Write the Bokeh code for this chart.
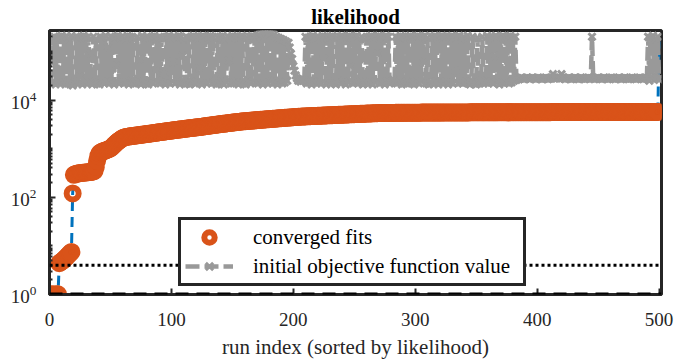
from bokeh.plotting import figure
from bokeh.models import (Range1d, FixedTicker, Span, Legend, LegendItem)
from bokeh.embed import file_html
from bokeh.resources import INLINE

# ---------------- data ----------------
# final objective value of every run, sorted (run index = position)
final_values = [
    1.0, 1.0, 1.0, 1.0, 1.0, 1.0, 1.01,
    4.4, 4.6, 4.8, 5.0, 5.3, 5.6, 5.9, 6.3, 6.7, 7.1, 7.5,
    120,
    290, 298, 303, 307, 310, 313, 316, 318, 320, 322, 324, 326, 328, 330, 333, 336, 340, 350,
    420, 560, 700, 800,
    840, 860, 880, 900, 920, 940, 960, 985, 1010,
    1060, 1120, 1190, 1260, 1330, 1400, 1460, 1520, 1580, 1640,
    1700, 1720, 1740, 1760, 1775, 1790, 1805, 1820, 1835, 1850,
    1865, 1880, 1895, 1910, 1925, 1940, 1955, 1970, 1985, 2000, 2015, 2035, 2050,
    2068, 2085, 2103, 2120, 2138, 2155, 2173, 2190, 2208, 2226,
    2244, 2262, 2280, 2298, 2316, 2334, 2350,
    2369, 2388, 2406, 2425, 2444, 2463, 2481, 2500, 2519, 2538,
    2556, 2575, 2594, 2613, 2631, 2650, 2669, 2688, 2706, 2725, 2744, 2763, 2781, 2800,
    2824, 2848, 2873, 2897, 2921, 2945, 2970, 2994, 3018, 3042,
    3067, 3091, 3115, 3139, 3164, 3188, 3212, 3236, 3261, 3285,
    3309, 3333, 3358, 3382, 3406, 3430, 3455, 3479, 3503, 3527, 3552, 3576, 3600,
    3619, 3639, 3658, 3678, 3697, 3716, 3736, 3755, 3775, 3794,
    3813, 3833, 3852, 3872, 3891, 3910, 3930, 3949, 3969, 3988,
    4007, 4027, 4046, 4066, 4085, 4104, 4124, 4143, 4163, 4182,
    4201, 4221, 4240, 4260, 4279, 4298, 4318, 4337, 4357, 4376,
    4395, 4415, 4434, 4454, 4473, 4492, 4512, 4531, 4550,
    4563, 4576, 4589, 4602, 4615, 4628, 4642, 4655, 4668, 4681,
    4694, 4707, 4720, 4733, 4746, 4759, 4772, 4785, 4798, 4811,
    4825, 4838, 4851, 4864, 4877, 4890, 4903, 4916, 4929, 4942,
    4955, 4968, 4981, 4994, 5008, 5021, 5034, 5047, 5060, 5073,
    5086, 5099, 5112, 5125, 5138, 5151, 5164, 5177, 5191, 5204,
    5217, 5230, 5243, 5256, 5269, 5282, 5295, 5308, 5321, 5334,
    5347, 5360, 5374, 5387, 5400,
    5403, 5407, 5410, 5414, 5417, 5421, 5424, 5428, 5431, 5434,
    5438, 5441, 5445, 5448, 5452, 5455, 5459, 5462, 5466, 5469,
    5472, 5476, 5479, 5483, 5486, 5490, 5493, 5497, 5500,
    5502, 5503, 5505, 5506, 5508, 5510, 5511, 5513, 5514, 5516,
    5518, 5519, 5521, 5522, 5524, 5526, 5527, 5529, 5530, 5532,
    5534, 5535, 5537, 5538, 5540, 5542, 5543, 5545, 5546, 5548,
    5550, 5551, 5553, 5554, 5556, 5558, 5559, 5561, 5562, 5564,
    5566, 5567, 5569, 5570, 5572, 5574, 5575, 5577, 5578, 5580,
    5581, 5582, 5584, 5585, 5586, 5587, 5588, 5590, 5591, 5592,
    5593, 5594, 5595, 5596, 5597, 5598, 5600, 5601, 5602, 5603,
    5604, 5605, 5606, 5607, 5608, 5610, 5611, 5612, 5613, 5614,
    5615, 5616, 5617, 5618, 5619, 5620, 5621, 5622, 5623, 5624,
    5625, 5625, 5626, 5627, 5627, 5628, 5628, 5629, 5629, 5630,
    5631, 5631, 5632, 5633, 5633, 5634, 5635, 5635, 5636, 5637,
    5637, 5638, 5639, 5639, 5640, 5641, 5641, 5642, 5643, 5643,
    5644, 5645, 5645, 5646, 5647, 5647, 5648, 5649, 5649, 5650,
    5651, 5651, 5652, 5653, 5653, 5654, 5655, 5655, 5656, 5657,
    5657, 5658, 5659, 5659, 5660, 5660, 5661, 5661, 5662, 5662,
    5663, 5664, 5665, 5666, 5667, 5667, 5668, 5669, 5670, 5671,
    5672, 5673, 5673, 5674, 5675, 5676, 5677, 5678, 5679, 5679,
    5680, 5681, 5682, 5683, 5684, 5685, 5685, 5686, 5687, 5688,
    5689, 5690, 5691, 5691, 5692, 5693, 5694, 5695, 5696, 5697,
    5697, 5698, 5698, 5699, 5699, 5700, 5700, 5700, 5700,
    160000,
]
n_converged = 499  # the last run did not converge

# initial objective function value of every run (same run order)
initial_values = [
    2.2e4, 1.6e5, 6.0e4, 2.0e5, 2.1e4, 1.9e5, 2.3e4, 2.0e5, 2.2e4, 2.1e5,
    2.4e4, 1.9e5, 2.1e4, 2.0e5, 2.2e4, 1.8e5, 2.3e4, 2.1e5, 2.0e4, 2.2e4,
    2.4e4, 2.0e5, 2.2e4, 1.9e5, 3.0e4, 2.0e5, 2.1e4, 2.1e5, 2.3e4, 1.9e5,
    2.2e4, 2.0e5, 2.4e4, 9.0e4, 2.1e4, 2.0e5, 2.3e4, 1.8e5, 2.2e4, 2.3e4,
    2.1e4, 2.0e5, 2.5e4, 1.9e5, 2.2e4, 2.1e5, 2.4e4, 1.2e5, 2.2e4, 2.0e5,
    2.3e4, 1.9e5, 2.1e4, 2.0e5, 5.0e4, 2.1e5, 2.2e4, 1.9e5, 2.4e4, 2.0e5,
    2.2e4, 1.8e5, 2.3e4, 2.1e5, 2.1e4, 2.0e5, 2.5e4, 1.9e5, 2.2e4, 2.3e4,
    2.2e4, 2.0e5, 2.4e4, 7.0e4, 2.1e4, 2.1e5, 2.3e4, 1.9e5, 2.2e4, 2.0e5,
    2.1e4, 1.9e5, 2.4e4, 2.0e5, 2.2e4, 2.1e5, 4.0e4, 1.8e5, 2.3e4, 2.0e5,
    2.2e4, 1.9e5, 2.5e4, 3.5e4, 2.1e4, 2.0e5, 2.3e4, 2.1e5, 2.2e4, 1.9e5,
    6.0e4, 2.0e5, 2.2e4, 1.9e5, 2.4e4, 2.1e5, 2.1e4, 2.0e5, 8.0e4, 1.8e5,
    2.3e4, 2.0e5, 2.2e4, 1.9e5, 2.1e4, 2.2e4, 2.4e4, 2.1e5, 2.2e4, 2.0e5,
    2.3e4, 1.9e5, 4.5e4, 2.0e5, 2.1e4, 2.1e5, 2.4e4, 1.9e5, 2.2e4, 2.0e5,
    2.5e4, 2.1e5, 2.2e4, 2.0e5, 2.3e4, 3.0e4, 2.1e4, 1.9e5, 2.2e4, 2.0e5,
    2.4e4, 2.1e5, 2.1e4, 1.8e5, 2.3e4, 2.0e5, 6.5e4, 1.9e5, 2.2e4, 2.1e5,
    2.2e4, 2.0e5, 2.4e4, 1.9e5, 2.1e4, 2.0e5, 2.3e4, 2.1e5, 2.2e4, 2.3e4,
    2.1e4, 1.9e5, 2.4e4, 2.0e5, 2.2e4, 2.1e5, 5.5e4, 2.0e5, 2.3e4, 1.9e5,
    2.2e4, 2.2e5, 2.4e4, 2.4e5, 2.1e4, 2.3e5, 2.3e4, 2.4e5, 2.2e4, 2.3e5,
    2.5e4, 2.4e5, 2.2e4, 2.2e5, 2.3e4, 2.0e5, 2.1e4, 1.9e5, 2.4e4, 1.8e5,
    2.2e4, 1.7e5, 2.3e4, 1.6e5, 2.5e4, 1.5e5, 1.2e5, 9.0e4, 7.0e4, 5.0e4,
    4.0e4, 3.2e4, 2.8e4, 2.5e4, 2.6e4, 2.4e4, 2.7e4, 2.5e4, 2.6e4, 2.0e5,
    2.2e4, 1.9e5, 2.3e4, 2.0e5, 2.1e4, 2.1e5, 2.4e4, 1.9e5, 2.2e4, 2.0e5,
    2.3e4, 1.8e5, 2.2e4, 2.1e5, 7.0e4, 2.0e5, 2.1e4, 1.9e5, 2.4e4, 2.0e5,
    2.2e4, 2.1e5, 2.3e4, 2.2e4, 2.1e4, 1.9e5, 2.5e4, 2.0e5, 2.2e4, 2.1e5,
    2.4e4, 1.9e5, 2.1e4, 2.0e5, 2.3e4, 2.1e5, 5.0e4, 1.9e5, 2.2e4, 2.0e5,
    2.3e4, 2.1e5, 2.2e4, 1.8e5, 2.4e4, 2.0e5, 2.1e4, 2.2e4, 2.3e4, 1.9e5,
    2.2e4, 2.0e5, 2.4e4, 2.1e5, 2.1e4, 1.9e5, 2.3e4, 2.0e5, 9.0e4, 2.1e5,
    2.2e4, 2.0e5, 2.3e4, 1.9e5, 2.1e4, 2.1e5, 2.4e4, 2.0e5, 2.2e4, 2.3e4,
    2.5e4, 2.6e4, 2.4e4, 2.0e5, 2.2e4, 1.9e5, 2.3e4, 2.1e5, 2.1e4, 2.0e5,
    2.2e4, 1.9e5, 2.4e4, 2.0e5, 2.3e4, 2.1e5, 2.2e4, 1.8e5, 2.1e4, 2.0e5,
    2.3e4, 2.1e5, 2.2e4, 1.9e5, 2.4e4, 2.0e5, 6.0e4, 2.1e5, 2.2e4, 1.9e5,
    2.1e4, 2.2e4, 2.3e4, 2.0e5, 2.2e4, 2.1e5, 2.4e4, 1.9e5, 2.1e4, 2.0e5,
    2.3e4, 2.1e5, 2.2e4, 2.0e5, 2.4e4, 1.9e5, 2.1e4, 2.0e5, 2.3e4, 2.1e5,
    2.2e4, 1.9e5, 4.0e4, 2.0e5, 2.2e4, 2.1e5, 2.3e4, 1.8e5, 2.2e4, 2.0e5,
    2.4e4, 2.3e4, 2.1e5, 2.2e4, 2.1e4, 2.3e4, 2.0e5, 2.2e4, 2.4e4, 2.1e4,
    1.9e5, 2.3e4, 2.2e4, 2.5e4, 2.0e5, 2.2e4, 2.4e4, 2.3e4, 2.1e5, 2.2e4,
    1.9e5, 2.4e4, 2.0e5, 2.2e4, 8.0e4, 2.1e5, 2.3e4, 1.9e5, 2.1e4, 2.0e5,
    2.3e4, 2.1e5, 2.2e4, 1.9e5, 2.4e4, 2.0e5, 2.2e4, 2.1e5, 2.3e4, 1.9e5,
    2.5e4, 2.0e5, 2.6e4, 2.8e4, 2.7e4, 2.8e4, 2.9e4, 2.8e4, 2.7e4, 2.8e4,
    2.8e4, 2.9e4, 2.8e4, 2.7e4, 2.8e4, 2.9e4, 2.8e4, 2.8e4, 2.7e4, 2.8e4,
    2.9e4, 2.8e4, 2.8e4, 2.7e4, 2.8e4, 2.8e4, 2.9e4, 2.8e4, 2.7e4, 2.8e4,
    2.8e4, 2.9e4, 3.4e4, 2.9e4, 2.8e4, 2.8e4, 2.9e4, 2.8e4, 2.9e4, 3.4e4,
    2.9e4, 2.8e4, 2.7e4, 2.8e4, 2.8e4, 2.9e4, 2.8e4, 2.7e4, 2.8e4, 2.8e4,
    2.9e4, 2.8e4, 2.8e4, 2.7e4, 2.8e4, 2.9e4, 2.8e4, 2.8e4, 2.7e4, 2.8e4,
    2.8e4, 2.9e4, 2.8e4, 2.8e4, 2.0e5, 2.8e4, 2.7e4, 2.8e4, 2.8e4, 2.9e4,
    2.8e4, 2.8e4, 2.7e4, 2.8e4, 2.9e4, 2.8e4, 2.8e4, 2.7e4, 2.8e4, 2.8e4,
    2.9e4, 2.8e4, 2.8e4, 2.7e4, 2.8e4, 2.8e4, 2.9e4, 2.8e4, 2.7e4, 2.8e4,
    2.8e4, 2.9e4, 2.8e4, 2.8e4, 2.7e4, 2.8e4, 2.8e4, 2.9e4, 2.8e4, 2.8e4,
    2.7e4, 2.8e4, 2.8e4, 2.9e4, 2.8e4, 2.8e4, 2.7e4, 2.8e4, 2.9e4, 2.8e4,
    2.0e5, 2.5e4, 1.9e5, 3.0e4, 2.1e5, 2.6e4, 1.8e5, 2.8e4, 2.0e5, 2.7e4,
]

dotted_level = 4.0   # black dotted reference line
dashed_level = 1.0   # black dashed reference line

x_ticks = [0, 100, 200, 300, 400, 500]
y_ticks = [1, 100, 10000]
legend_labels = ["converged fits", "initial objective function value"]
title_text = "likelihood"
x_label = "run index (sorted by likelihood)"

# ---------------- styling ----------------
FONT = "Liberation Serif"
AX = "#262626"
BLUE = "#0072BD"
ORANGE = "#D95319"
GRAY = "#999999"

run_final = list(range(1, len(final_values) + 1))
run_init = list(range(1, len(initial_values) + 1))

p = figure(width=678, height=362, y_axis_type="log",
           x_range=Range1d(0, 502), y_range=Range1d(1, 10 ** 5.43),
           output_backend="svg", toolbar_location=None,
           min_border_left=49, min_border_right=17,
           min_border_top=30, min_border_bottom=68,
           background_fill_color="white", border_fill_color="white")
p.xgrid.visible = False
p.ygrid.visible = False
p.outline_line_color = AX
p.outline_line_width = 3

p.title.text = title_text
p.title.align = "center"
p.title.text_font = FONT
p.title.text_font_size = "21px"
p.title.text_font_style = "bold"
p.title.text_color = "black"
p.title.standoff = 4

p.line(run_final, final_values, line_color=BLUE, line_width=3, line_dash="10 6")
r_conv = p.scatter(run_final[:n_converged], final_values[:n_converged],
                   marker="circle", size=12, line_width=6,
                   line_color=ORANGE, fill_color=None)
r_init_line = p.line(run_init, initial_values, line_color=GRAY, line_width=4.5,
                     line_dash="14 5")
r_init_pts = p.scatter(run_init, initial_values, marker="x", size=10,
                       line_width=3, line_color=GRAY)

p.add_layout(Span(location=dotted_level, dimension="width", line_color="black",
                  line_width=3, line_dash="3 3"))
p.add_layout(Span(location=dashed_level, dimension="width", line_color="black",
                  line_width=4, line_dash="13 8"))

minor = [k * 10 ** e for e in range(0, 6) for k in range(2, 10)] + [10, 1000, 100000]

xa = p.xaxis[0]
ya = p.yaxis[0]
xa.ticker = FixedTicker(ticks=x_ticks, minor_ticks=[])
ya.ticker = FixedTicker(ticks=y_ticks, minor_ticks=minor)
for ax in (xa, ya):
    ax.axis_line_width = 3
    ax.axis_line_color = AX
    ax.major_tick_in = 6
    ax.major_tick_out = 0
    ax.minor_tick_in = 3
    ax.minor_tick_out = 0
    ax.major_tick_line_width = 2
    ax.minor_tick_line_width = 2
    ax.major_tick_line_color = AX
    ax.minor_tick_line_color = AX
    ax.major_label_text_font = FONT
    ax.major_label_text_color = AX
    ax.major_label_text_font_size = "19px"
xa.major_label_standoff = 18
ya.major_label_standoff = 13
xa.axis_label = x_label
xa.axis_label_text_font = FONT
xa.axis_label_text_font_size = "21px"
xa.axis_label_text_font_style = "normal"
xa.axis_label_text_color = AX
xa.axis_label_standoff = 6

legend = Legend(items=[LegendItem(label=legend_labels[0], renderers=[r_conv]),
                       LegendItem(label=legend_labels[1],
                                  renderers=[r_init_line, r_init_pts])],
                location=(129, 8), margin=0, padding=4, spacing=3,
                glyph_width=48, glyph_height=26, label_standoff=20,
                label_width=266,
                label_text_font=FONT, label_text_font_size="21px",
                label_text_color="black",
                border_line_color=AX, border_line_width=3, border_line_alpha=1.0,
                background_fill_color="white", background_fill_alpha=1.0)
p.add_layout(legend)

open("out.html", "w").write(file_html(p, INLINE))
